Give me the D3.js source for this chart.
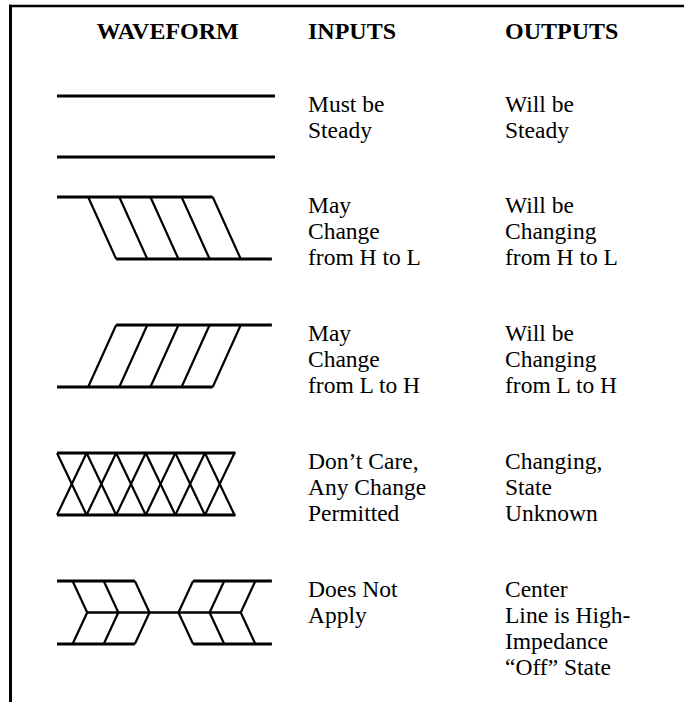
<!DOCTYPE html>
<html>
<head>
<meta charset="utf-8">
<script src="https://cdn.jsdelivr.net/npm/d3@7"></script>
<style>
  html, body { margin: 0; padding: 0; background: #fff; }
  svg { display: block; }
  text { font-family: "Liberation Serif", "Times New Roman", serif; fill: #000; }
</style>
</head>
<body>
<script>
// ---- Data ----
const headers = ["WAVEFORM", "INPUTS", "OUTPUTS"];
const waveTypes = ["steady", "hToL", "lToH", "dontCare", "highZ"];
const inputLabels = [
  ["Must be", "Steady"],
  ["May", "Change", "from H to L"],
  ["May", "Change", "from L to H"],
  ["Don\u2019t Care,", "Any Change", "Permitted"],
  ["Does Not", "Apply"]
];
const outputLabels = [
  ["Will be", "Steady"],
  ["Will be", "Changing", "from H to L"],
  ["Will be", "Changing", "from L to H"],
  ["Changing,", "State", "Unknown"],
  ["Center", "Line is High-", "Impedance", "\u201COff\u201D State"]
];
// waveform time positions (in time units)
const transitionStarts = [1, 2, 3, 4, 5];        // H->L / L->H slanted edges
const crossCells = [0, 0.95, 1.9, 2.85, 3.8, 4.75]; // don't-care X cells
const chevronLeft = [0.5, 1.5, 2.5];              // right-pointing chevrons
const chevronRight = [4.37, 5.37, 6.37];          // left-pointing chevrons

// ---- Layout ----
const W = 684, H = 702;
const svg = d3.select("body").append("svg").attr("width", W).attr("height", H);

const x = d3.scaleLinear().domain([0, 7]).range([57, 275]);
const slant = 0.9, cellW = 0.95, chev = 0.47;
const colX = d3.scaleOrdinal().domain(headers).range([96.5, 308, 505]);
const rowTop = i => i === 0 ? 96 : 197 + (i - 1) * 128;
const rowH = [61, 62, 62, 62, 63];

// border
svg.append("line").attr("x1", 9).attr("x2", W).attr("y1", 6).attr("y2", 6)
  .attr("stroke", "#000").attr("stroke-width", 2.5);
svg.append("line").attr("x1", 10.5).attr("x2", 10.5).attr("y1", 4.8).attr("y2", H)
  .attr("stroke", "#000").attr("stroke-width", 3);

// headers
svg.selectAll("text.hdr").data(headers).join("text").attr("class", "hdr")
  .attr("x", d => colX(d)).attr("y", 39)
  .attr("font-size", 24).attr("font-weight", "bold").text(d => d);

const HW = 3, DW = 2.2;
function seg(g, x1, y1, x2, y2, w) {
  g.append("line").attr("x1", x1).attr("y1", y1).attr("x2", x2).attr("y2", y2)
    .attr("stroke", "#000").attr("stroke-width", w).attr("stroke-linecap", "butt");
}

waveTypes.forEach((type, i) => {
  const top = rowTop(i);
  const y = d3.scaleLinear().domain([1, 0]).range([top, top + rowH[i]]);
  const g = svg.append("g");
  if (type === "steady") {
    seg(g, x(0), y(1), x(7), y(1), HW);
    seg(g, x(0), y(0), x(7), y(0), HW);
  } else if (type === "hToL") {
    seg(g, x(0), y(1), x(5), y(1), HW);
    seg(g, x(1 + slant), y(0), x(6 + slant), y(0), HW);
    transitionStarts.forEach(t => seg(g, x(t), y(1), x(t + slant), y(0), DW));
  } else if (type === "lToH") {
    seg(g, x(1 + slant), y(1), x(6 + slant), y(1), HW);
    seg(g, x(0), y(0), x(5), y(0), HW);
    transitionStarts.forEach(t => seg(g, x(t), y(0), x(t + slant), y(1), DW));
  } else if (type === "dontCare") {
    const end = crossCells[crossCells.length - 1] + cellW;
    seg(g, x(0), y(1), x(end) + 1, y(1), HW);
    seg(g, x(0), y(0), x(end) + 1, y(0), HW);
    crossCells.forEach(t => {
      seg(g, x(t), y(1), x(t + cellW), y(0), DW);
      seg(g, x(t), y(0), x(t + cellW), y(1), DW);
    });
  } else if (type === "highZ") {
    const lEnd = chevronLeft[chevronLeft.length - 1];
    const rStart = chevronRight[0];
    seg(g, x(0), y(1), x(lEnd), y(1), HW);
    seg(g, x(0), y(0), x(lEnd), y(0), HW);
    seg(g, x(rStart), y(1), x(6.9), y(1), HW);
    seg(g, x(rStart), y(0), x(6.9), y(0), HW);
    seg(g, x(chevronLeft[0] + chev), y(0.5), x(chevronRight[2] - chev), y(0.5), 2.6);
    chevronLeft.forEach(t => {
      seg(g, x(t), y(1), x(t + chev), y(0.5), DW);
      seg(g, x(t), y(0), x(t + chev), y(0.5), DW);
    });
    chevronRight.forEach(t => {
      seg(g, x(t), y(1), x(t - chev), y(0.5), DW);
      seg(g, x(t), y(0), x(t - chev), y(0.5), DW);
    });
  }

  const lh = 26.3;
  [[inputLabels[i], colX("INPUTS")], [outputLabels[i], colX("OUTPUTS")]].forEach(([lines, cx]) => {
    g.selectAll(null).data(lines).join("text")
      .attr("x", cx).attr("y", (d, k) => top + 15.5 + k * lh)
      .attr("font-size", 23.5).text(d => d);
  });
});
</script>
</body>
</html>
